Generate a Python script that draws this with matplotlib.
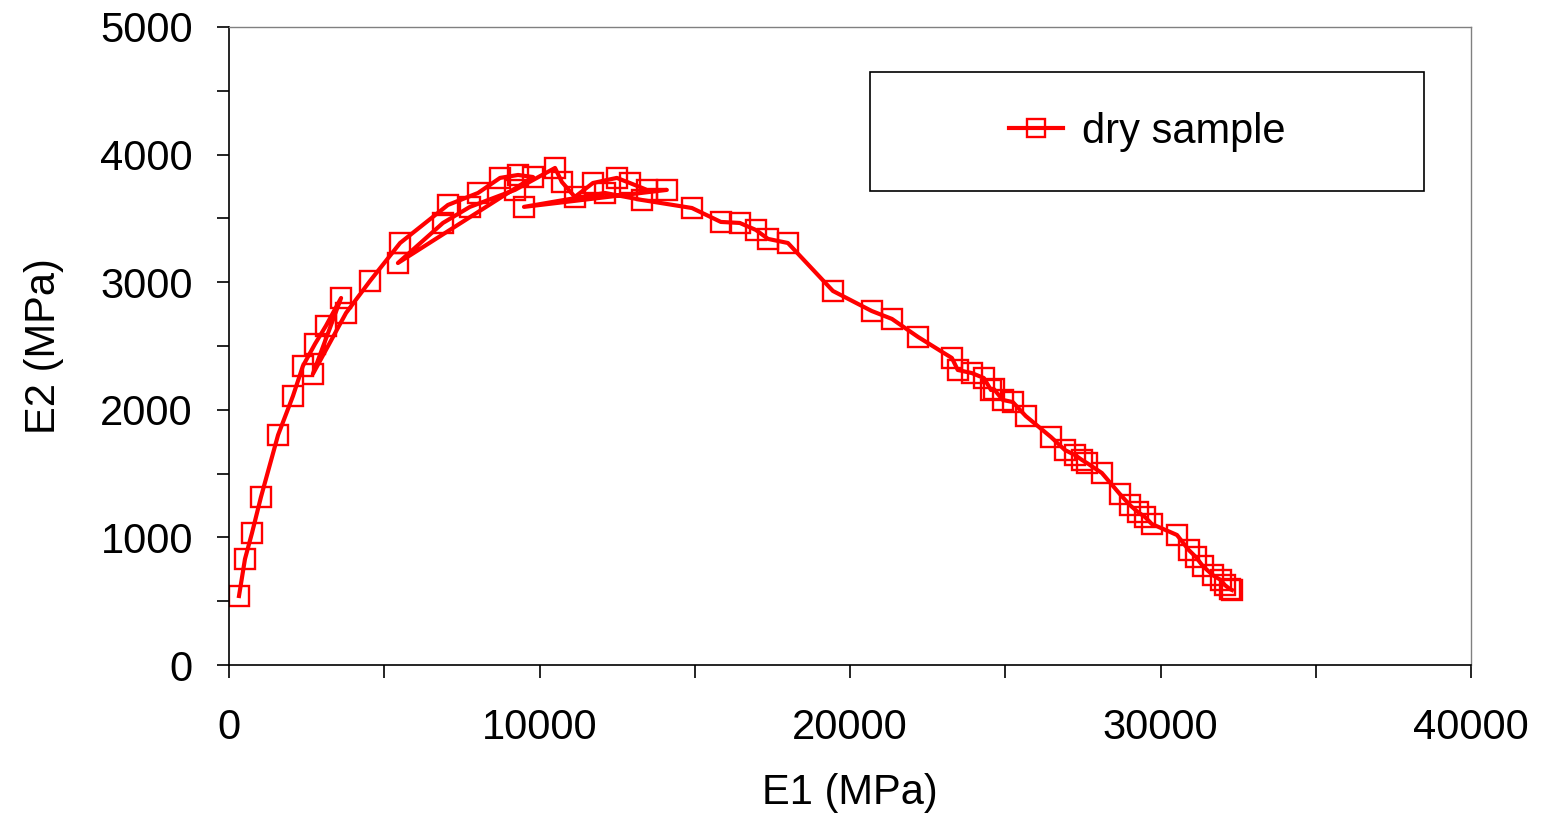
import numpy as np
import matplotlib.pyplot as plt
from matplotlib.patches import Rectangle
from matplotlib.ticker import MultipleLocator

plt.rcParams['font.family'] = ['Liberation Sans', 'DejaVu Sans']

# E1 / E2 pairs (MPa), in loading order
e1 = [322, 515, 740, 1030, 1580, 2060, 2380, 2770, 3120, 3610,
      2700,
      3770, 4540, 5510, 7050, 8020, 8730, 9310, 9790,
      5440,
      6890, 7760, 9210, 10500,
      10720, 11140, 11720, 12490, 12910, 13460, 14100,
      9500,
      12110, 13300, 14910,
      15840, 16450, 16970, 17360, 18000, 19450, 20700, 21350, 22190, 23280,
      23470, 23920, 24310, 24540, 24630, 24920, 25240, 25660, 26470, 26920,
      27240, 27470, 27630, 28110, 28690, 29010, 29270, 29500, 29720, 30530,
      30910, 31140, 31360, 31680, 31940, 32070, 32230, 32300]
e2 = [541, 831, 1034, 1317, 1802, 2108, 2343, 2516, 2657, 2876,
      2280,
      2759, 3009, 3307, 3605, 3699, 3817, 3840, 3824,
      3150,
      3464, 3590, 3723, 3895,
      3785, 3668, 3777, 3817, 3777, 3723, 3723,
      3590,
      3699, 3644, 3581,
      3472, 3464, 3409, 3339, 3307, 2931, 2774, 2712, 2571, 2406,
      2312, 2288, 2249, 2155, 2163, 2077, 2061, 1951, 1787, 1685,
      1646, 1607, 1583, 1505, 1340, 1254, 1199, 1160, 1105, 1019,
      901, 846, 776, 705, 666, 627, 596, 588]

fig = plt.figure(figsize=(15.41, 8.16), dpi=100)
ax = fig.add_axes([0.1486, 0.185, 0.806, 0.782])

ax.plot(e1, e2, color='#ff0000', lw=3.0, marker='s', ms=15,
        mfc='none', mec='#ff0000', mew=1.7, label='dry sample')

ax.set_xlim(0, 40000)
ax.set_ylim(0, 5000)
ax.xaxis.set_major_locator(MultipleLocator(10000))
ax.xaxis.set_minor_locator(MultipleLocator(5000))
ax.yaxis.set_major_locator(MultipleLocator(1000))
ax.yaxis.set_minor_locator(MultipleLocator(500))
ax.tick_params(which='both', direction='out', length=9, width=1.2, color='black')
ax.tick_params(axis='x', which='major', labelsize=30, pad=22)
ax.tick_params(axis='y', which='major', labelsize=30, pad=17)

for s in ['left', 'bottom']:
    ax.spines[s].set_color('black')
    ax.spines[s].set_linewidth(1.2)
for s in ['top', 'right']:
    ax.spines[s].set_color('#808080')
    ax.spines[s].set_linewidth(1.0)

ax.set_xlabel('E1 (MPa)', fontsize=30, labelpad=18)
ax.set_ylabel('E2 (MPa)', fontsize=30, labelpad=26)

ax.add_patch(Rectangle((0.516, 0.743), 0.446, 0.1865, transform=ax.transAxes,
                       fill=False, ec='black', lw=1.2, zorder=5))
ax.legend(loc='center', bbox_to_anchor=(0.739, 0.836), frameon=False,
          fontsize=30, handlelength=1.3, handletextpad=0.45, markerscale=0.85)

fig.savefig('out.png', dpi=100)
